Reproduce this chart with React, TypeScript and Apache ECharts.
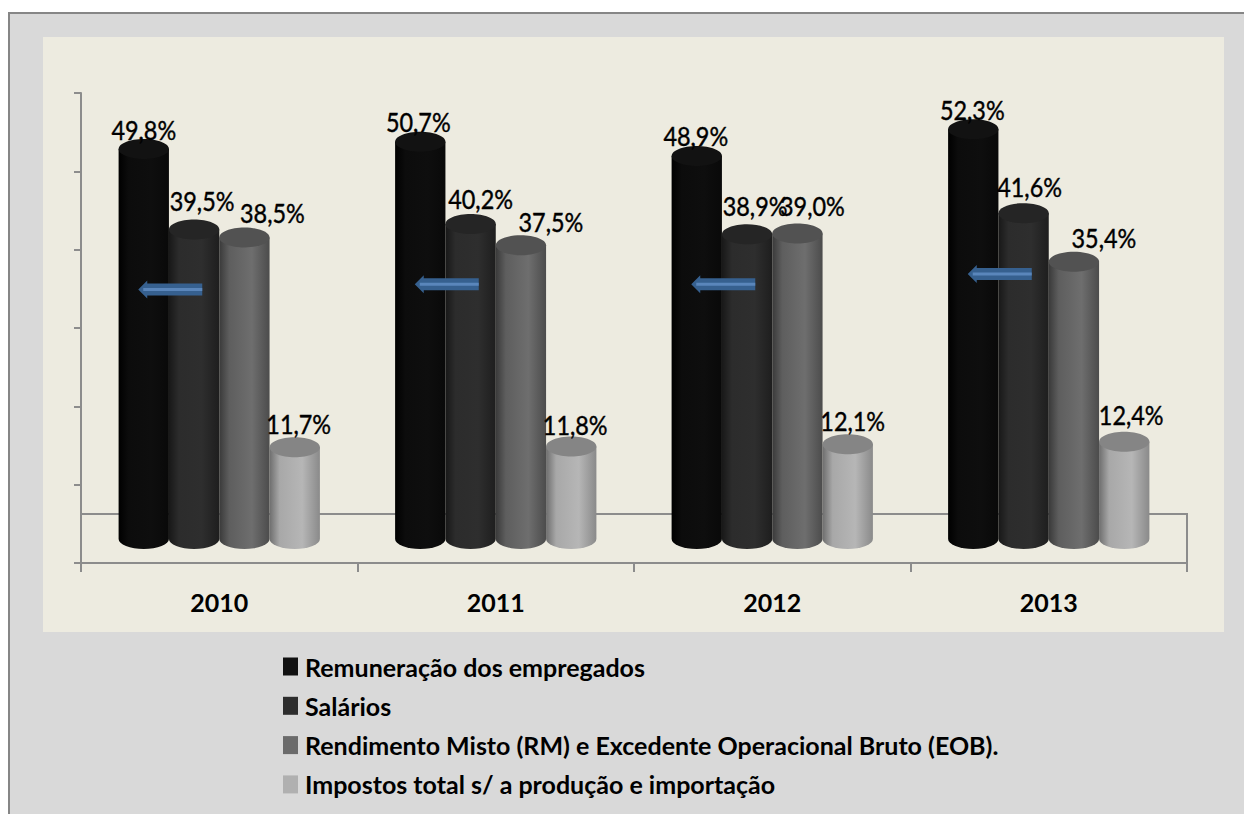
import React, { useEffect, useRef } from "react";
import * as echarts from "echarts";

const categories = ["2010", "2011", "2012", "2013"];
const seriesNames = [
  "Remuneração dos empregados",
  "Salários",
  "Rendimento Misto (RM) e Excedente Operacional Bruto (EOB).",
  "Impostos total s/ a produção e importação",
];
const remuneracao = [49.8, 50.7, 48.9, 52.3];
const salarios = [39.5, 40.2, 38.9, 41.6];
const rendimento = [38.5, 37.5, 39.0, 35.4];
const impostos = [11.7, 11.8, 12.1, 12.4];
const allValues = [remuneracao, salarios, rendimento, impostos];
const arrowLevels = [34.9, 35.6, 35.6, 36.9];

const legendColors = ["#111111", "#2d2d2d", "#6b6b6b", "#b0b0b0"];
const bodyStops = [
  ["#000000", "#0c0c0c", "#0e0e0e", "#090909"],
  ["#181818", "#2c2c2c", "#2e2e2e", "#1e1e1e"],
  ["#3a3a3a", "#5e5e5e", "#6e6e6e", "#4c4c4c"],
  ["#6e6e6e", "#a8a8a8", "#b6b6b6", "#8a8a8a"],
];
const capColors = ["#121212", "#252525", "#525252", "#858585"];

// per label nudges from its cylinder centre: [dx, dy] by series, by year
const labelNudge = [
  [[0, 2], [8, -8], [28, -3], [4, -2]],
  [[-2, 1], [10, -4], [30, -2], [4, -1]],
  [[-1, 1], [8, -7], [15, -6], [5, -2]],
  [[-1, 2], [6, -5], [30, -3], [7, -6]],
];

const DEPTH = 24;
const FONT = 'Lato, "Noto Sans", sans-serif';

function cylinder(seriesIdx: number) {
  return (params: any, api: any) => {
    const catIdx = api.value(0);
    const val = api.value(1);
    const band = api.size([1, 0])[0];
    const w = band * 0.182;
    const rx = w / 2;
    const ry = 10;
    const c = api.coord([catIdx, val]);
    const b = api.coord([catIdx, 0]);
    const cx = c[0] + (seriesIdx - 1.5) * w;
    const topY = c[1] - DEPTH;
    const baseY = b[1] - DEPTH;
    const stops = bodyStops[seriesIdx];
    const grad = new echarts.graphic.LinearGradient(0, 0, 1, 0, [
      { offset: 0, color: stops[0] },
      { offset: 0.2, color: stops[1] },
      { offset: 0.65, color: stops[2] },
      { offset: 1, color: stops[3] },
    ]);
    const d = `M ${cx - rx} ${topY} L ${cx - rx} ${baseY} A ${rx} ${ry} 0 0 0 ${cx + rx} ${baseY} L ${cx + rx} ${topY} Z`;
    const [dx, dy] = labelNudge[catIdx][seriesIdx];
    return {
      type: "group",
      children: [
        { type: "path", shape: { pathData: d }, style: { fill: grad } },
        {
          type: "ellipse",
          shape: { cx, cy: topY, rx, ry },
          style: { fill: capColors[seriesIdx] },
        },
        {
          type: "text",
          z2: 100,
          x: cx + dx,
          y: topY - ry + 2 + dy,
          scaleX: 0.9,
          style: {
            text: val.toFixed(1).replace(".", ",") + "%",
            fontFamily: FONT,
            fontSize: 26,
            fill: "#000000",
            stroke: "#000000",
            lineWidth: 0.4,
            align: "center",
            verticalAlign: "bottom",
          },
        },
      ],
    };
  };
}

function arrow(params: any, api: any) {
  const p = api.coord([api.value(0), api.value(1)]);
  const x0 = p[0] - 81;
  const y = p[1];
  return {
    type: "group",
    children: [
      {
        type: "polygon",
        shape: {
          points: [
            [x0, y],
            [x0 + 9, y - 9],
            [x0 + 9, y - 6],
            [x0 + 64, y - 6],
            [x0 + 64, y + 6],
            [x0 + 9, y + 6],
            [x0 + 9, y + 9],
          ],
        },
        style: { fill: "#36608f" },
      },
      {
        type: "rect",
        shape: { x: x0 + 5, y: y - 1.5, width: 59, height: 3 },
        style: { fill: "#5a86bb" },
      },
    ],
  };
}

export default function App() {
  const ref = useRef<HTMLDivElement>(null);
  useEffect(() => {
    const chart = echarts.init(ref.current!, null, { renderer: "svg" });
    chart.setOption({
      animation: false,
      grid: { left: 81, right: 57, top: 93, bottom: 251, containLabel: false },
      xAxis: {
        type: "category",
        data: categories,
        boundaryGap: true,
        axisLine: { lineStyle: { color: "#8c8c8c", width: 2 } },
        axisTick: { show: true, length: 9, alignWithLabel: false, lineStyle: { color: "#8c8c8c", width: 2 } },
        axisLabel: { color: "#000", fontFamily: FONT, fontWeight: "bold", fontSize: 25, margin: 26 },
      },
      yAxis: {
        type: "value",
        min: 0,
        max: 60,
        interval: 10,
        splitLine: { show: false },
        axisLine: { show: true, lineStyle: { color: "#8c8c8c", width: 2 } },
        axisTick: { show: true, length: 7, lineStyle: { color: "#8c8c8c", width: 2 } },
        axisLabel: { show: false },
      },
      legend: {
        data: seriesNames,
        orient: "vertical",
        left: 283,
        top: 654,
        padding: 0,
        itemWidth: 15,
        itemHeight: 18,
        itemGap: 14.3,
        icon: "rect",
        selectedMode: false,
        textStyle: { color: "#000", fontFamily: FONT, fontWeight: "bold", fontSize: 25, padding: [0, 0, 0, 2] },
      },
      graphic: [
        { type: "rect", z: -10, shape: { x: 9, y: 13, width: 1240, height: 810 }, style: { fill: "#d9d9d9", stroke: "#868686", lineWidth: 2 } },
        { type: "rect", z: -9, shape: { x: 43, y: 37, width: 1181, height: 595 }, style: { fill: "#edebe0" } },
        {
          type: "polyline",
          z: 0,
          shape: { points: [[81, 514], [1187, 514], [1187, 563]] },
          style: { stroke: "#8c8c8c", lineWidth: 2, fill: "none" },
        },
      ],
      series: [
        ...allValues.map((vals, i) => ({
          type: "custom",
          name: seriesNames[i],
          coordinateSystem: "cartesian2d",
          itemStyle: { color: legendColors[i] },
          clip: false,
          encode: { x: 0, y: 1 },
          data: vals.map((v, c) => [c, v]),
          renderItem: cylinder(i),
        })),
        {
          type: "custom",
          name: "setas",
          coordinateSystem: "cartesian2d",
          z: 5,
          encode: { x: 0, y: 1 },
          data: arrowLevels.map((v, c) => [c, v]),
          renderItem: arrow,
        },
      ],
    });
    return () => chart.dispose();
  }, []);
  return (
    <div
      ref={ref}
      style={{ position: "absolute", left: 0, top: 0, width: 1244, height: 814, overflow: "hidden" }}
    />
  );
}
